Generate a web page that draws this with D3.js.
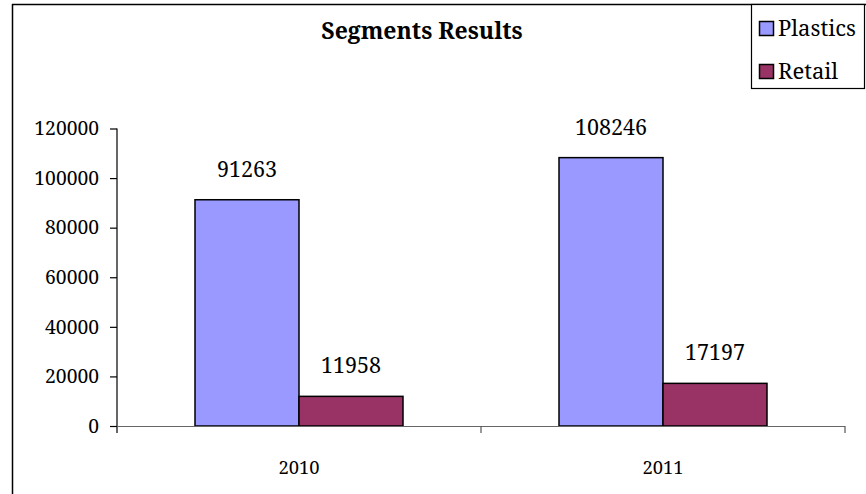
<!DOCTYPE html>
<html>
<head>
<meta charset="utf-8">
<script src="https://cdn.jsdelivr.net/npm/d3@7"></script>
<style>
  body { margin: 0; background: #fff; }
</style>
</head>
<body>
<svg width="866" height="494"></svg>
<script>
// chart data
const years = ["2010", "2011"];
const seriesNames = ["Plastics", "Retail"];
const plastics = [91263, 108246];
const retail = [11958, 17197];
const yTicks = [0, 20000, 40000, 60000, 80000, 100000, 120000];
const colors = ["#9999ff", "#993366"];

const FONT = "'Noto Serif', 'Liberation Serif', serif";
const svg = d3.select("svg").style("font-family", FONT);

// outer chart frame (top and left only)
svg.append("line").attr("x1", 12).attr("x2", 866).attr("y1", 4.5).attr("y2", 4.5)
  .attr("stroke", "#000").attr("stroke-width", 1.5);
svg.append("line").attr("x1", 12.5).attr("x2", 12.5).attr("y1", 4).attr("y2", 494)
  .attr("stroke", "#000").attr("stroke-width", 1.5);

const x = d3.scaleBand().domain(years).range([117, 845]);
const y = d3.scaleLinear().domain([0, 120000]).range([426, 128.5]);

// bars within each category band (gap width 150%)
const barW = x.bandwidth() / 3.5;
const inner = d3.scaleBand().domain(seriesNames)
  .range([x.bandwidth() * 0.75 / 3.5, x.bandwidth() * 0.75 / 3.5 + 2 * barW]);

const rows = years.map((yr, i) => ({ year: yr, values: [plastics[i], retail[i]] }));

const grp = svg.append("g").selectAll("g.cat").data(rows).enter().append("g")
  .attr("transform", d => `translate(${x(d.year)},0)`);

grp.selectAll("rect").data(d => d.values.map((v, j) => ({ v, s: seriesNames[j], j })))
  .enter().append("rect")
  .attr("x", d => inner(d.s))
  .attr("width", inner.bandwidth())
  .attr("y", d => y(d.v))
  .attr("height", d => y(0) - y(d.v))
  .attr("fill", d => colors[d.j])
  .attr("stroke", "#000")
  .attr("stroke-width", 1.5);

grp.selectAll("text.val").data(d => d.values.map((v, j) => ({ v, s: seriesNames[j] })))
  .enter().append("text")
  .attr("class", "val")
  .attr("x", d => inner(d.s) + inner.bandwidth() / 2)
  .attr("y", d => y(d.v) - 23)
  .attr("text-anchor", "middle")
  .style("font-family", FONT)
  .style("font-size", "21.5px")
  .attr("fill", "#000")
  .text(d => d.v);

// y axis
const yAxis = svg.append("g")
  .attr("transform", "translate(117,0)")
  .call(d3.axisLeft(y).tickValues(yTicks).tickSize(7).tickPadding(11).tickFormat(d3.format("d")));
yAxis.select(".domain").remove();
yAxis.selectAll(".tick line").attr("stroke", "#000").attr("stroke-width", 1.2);
yAxis.selectAll("text").attr("fill", "#000")
  .style("font-family", FONT).style("font-size", "19.3px");
svg.append("line").attr("x1", 117).attr("x2", 117).attr("y1", y(120000)).attr("y2", 433)
  .attr("stroke", "#000").attr("stroke-width", 1.2);

// x axis
svg.append("line").attr("x1", 117).attr("x2", 845).attr("y1", 426.5).attr("y2", 426.5)
  .attr("stroke", "#666").attr("stroke-width", 1.2);
const bounds = years.map(d => x(d)).concat([x(years[years.length - 1]) + x.bandwidth()]);
svg.selectAll("line.xt").data(bounds.slice(1)).enter().append("line")
  .attr("x1", d => d).attr("x2", d => d).attr("y1", 426).attr("y2", 433)
  .attr("stroke", "#555").attr("stroke-width", 1.2);
svg.selectAll("text.cat").data(years).enter().append("text")
  .attr("x", d => x(d) + x.bandwidth() / 2)
  .attr("y", 474)
  .attr("text-anchor", "middle")
  .style("font-family", FONT)
  .style("font-size", "18.4px")
  .text(d => d);

// title
svg.append("text")
  .attr("x", 422).attr("y", 39)
  .attr("text-anchor", "middle")
  .style("font-family", FONT)
  .style("font-size", "23px")
  .style("font-weight", "bold")
  .text("Segments Results");

// legend
const lg = svg.append("g");
lg.append("rect").attr("x", 751.5).attr("y", 4.5).attr("width", 113).attr("height", 84)
  .attr("fill", "#fff").attr("stroke", "#000").attr("stroke-width", 1.2);
seriesNames.forEach((name, i) => {
  lg.append("rect").attr("x", 759.5).attr("y", 21.5 + i * 43).attr("width", 14).attr("height", 14)
    .attr("fill", colors[i]).attr("stroke", "#000").attr("stroke-width", 1.5);
  lg.append("text").attr("x", 778).attr("y", 36 + i * 43)
    .style("font-family", FONT)
    .style("font-size", "22px")
    .text(name);
});
</script>
</body>
</html>
